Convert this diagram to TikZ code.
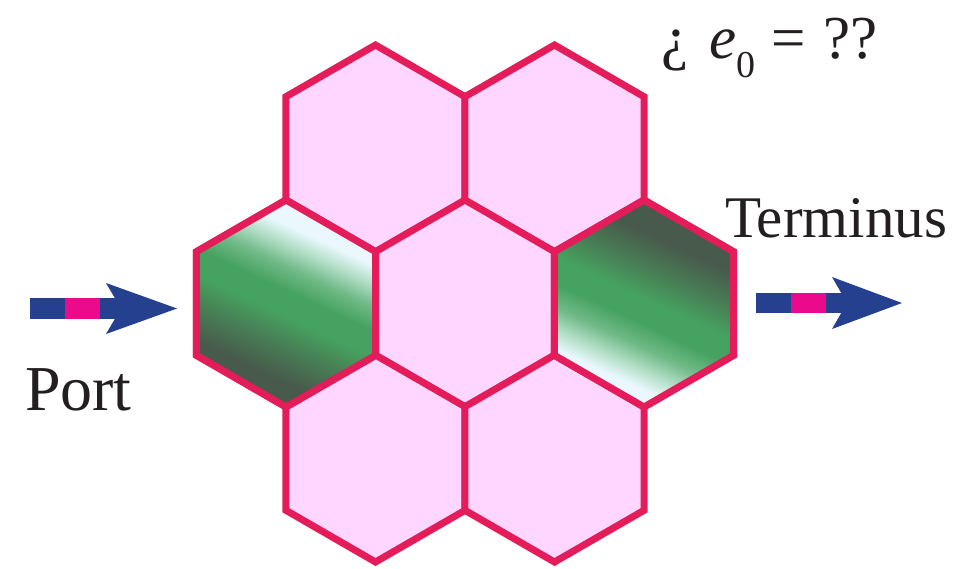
\documentclass[tikz,border=0pt]{standalone}
\usepackage{fontspec}
\setmainfont{Liberation Serif}
\usetikzlibrary{shapes.geometric,calc}
\definecolor{hexline}{RGB}{228,28,90}
\definecolor{hexfill}{RGB}{255,214,255}
\definecolor{gdark}{RGB}{72,90,76}
\definecolor{gmid}{RGB}{72,128,86}
\definecolor{ggreen}{RGB}{70,162,96}
\definecolor{gsoft}{RGB}{112,186,136}
\definecolor{gpale}{RGB}{178,222,198}
\definecolor{glight}{RGB}{234,248,254}
\definecolor{arrblue}{RGB}{38,64,144}
\definecolor{arrpink}{RGB}{236,10,140}
\definecolor{txt}{RGB}{35,31,32}
\pgfdeclareverticalshading{hexgrad}{100bp}{color(0bp)=(gdark); color(25bp)=(gdark); color(32bp)=(gdark); color(40.5bp)=(gmid); color(47bp)=(ggreen); color(53bp)=(ggreen); color(58.5bp)=(gsoft); color(63.5bp)=(gpale); color(68bp)=(glight); color(75bp)=(glight); color(100bp)=(glight)}
\tikzset{
  hexcell/.style={regular polygon, regular polygon sides=6, shape border rotate=30,
    minimum size=207pt, inner sep=0pt, outer sep=0pt, draw=hexline, line width=7pt, line join=miter},
  pinkcell/.style={hexcell, fill=hexfill},
  hexborder/.style={draw=hexline, line width=7pt, line join=miter},
  lbl/.style={inner sep=0pt, outer sep=0pt, anchor=base west, text=txt},
}
% #1 node name, #2 rotation, #3 shift of the gradient centre
\newcommand\greenfill[3]{%
  \begin{scope}
    \clip (#1.corner 1) -- (#1.corner 2) -- (#1.corner 3) -- (#1.corner 4) -- (#1.corner 5) -- (#1.corner 6) -- cycle;
    \shade[shading=hexgrad, transform canvas={shift={($(#1.center)+(#3)$)}, rotate=#2}] (-100,-100) rectangle (100,100);
  \end{scope}
  \draw[hexborder] (#1.corner 1) -- (#1.corner 2) -- (#1.corner 3) -- (#1.corner 4) -- (#1.corner 5) -- (#1.corner 6) -- cycle;
}
\begin{document}
\begin{tikzpicture}[x=1pt,y=-1pt]
\useasboundingbox (0,0) rectangle (968,568);
\node[pinkcell] (tl) at (375.5,148.5) {};
\node[pinkcell] (tr) at (554.5,148.5) {};
\node[pinkcell] (c) at (465,303.5) {};
\node[pinkcell] (bl) at (375.5,458.5) {};
\node[pinkcell] (br) at (554.5,458.5) {};
\node[hexcell] (l) at (286,303.5) {};
\node[hexcell] (r) at (644,303.5) {};
\greenfill{l}{-25}{0,0}
\greenfill{r}{155}{-3,6}
% left arrow
\fill[arrblue] (30,298) rectangle (65,319);
\fill[arrpink] (65,298) rectangle (100,319);
\fill[arrblue] (100,298) rectangle (122,319);
\fill[arrblue] (106,283) -- (177,308.5) -- (106,334) -- (121,308.5) -- cycle;
% right arrow
\fill[arrblue] (756,293) rectangle (791,313);
\fill[arrpink] (791,293) rectangle (826,313);
\fill[arrblue] (826,293) rectangle (848,313);
\fill[arrblue] (832,277) -- (902,303) -- (832,329) -- (847,303) -- cycle;
% labels
\node[lbl, font=\fontsize{64}{66}\selectfont] (port) at (25,410) {Port};
\node[lbl, font=\fontsize{59}{62}\selectfont] (term) at (725,237) {Terminus};
\node[lbl, font=\fontsize{61}{63}\selectfont] (eq) at (661,58) {¿\hspace{21pt}\textit{e}\raisebox{-19pt}{\fontsize{38}{38}\selectfont 0}\hspace{16pt}=\hspace{18pt}??};
\end{tikzpicture}
\end{document}
